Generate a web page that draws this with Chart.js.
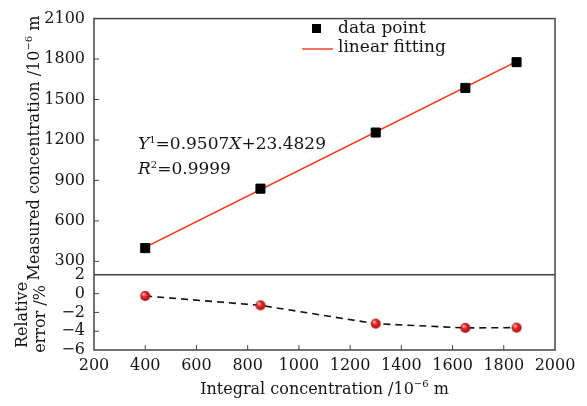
<!DOCTYPE html>
<html>
<head>
<meta charset="utf-8">
<script src="https://cdn.jsdelivr.net/npm/chart.js@4"></script>
<style>
  html, body { margin: 0; padding: 0; background: #fff; }
</style>
</head>
<body>
<canvas id="grafico" width="587" height="406"></canvas>
<script>
// datos
const integralConc = [400, 850, 1300, 1650, 1850];
const measuredConc = [398, 839, 1255, 1586, 1777];
const fitX = [400, 1850];
const fitY = [404, 1782];
const relativeError = [-0.25, -1.25, -3.2, -3.65, -3.62];

const xTicks = [200, 400, 600, 800, 1000, 1200, 1400, 1600, 1800, 2000];
const topTicks = [300, 600, 900, 1200, 1500, 1800, 2100];
const errTicks = [-6, -4, -2, 0, 2];

const SERIF = '"DejaVu Serif", "Liberation Serif", serif';
const tickFont = { family: SERIF, size: 16 };
const INK = '#151515';
const RED = '#f0442c';

// esfera roja para los puntos del error
function sphere(r) {
  const c = document.createElement('canvas');
  c.width = c.height = 2 * r + 2;
  const g = c.getContext('2d');
  const cx = r + 1;
  const grd = g.createRadialGradient(cx - r * 0.35, cx - r * 0.4, 0.5, cx, cx, r);
  grd.addColorStop(0, '#ffd6d6');
  grd.addColorStop(0.35, '#f02a2a');
  grd.addColorStop(1, '#a80c0c');
  g.fillStyle = grd;
  g.beginPath();
  g.arc(cx, cx, r, 0, Math.PI * 2);
  g.fill();
  return c;
}

function pts(xs, ys) {
  return xs.map((x, i) => ({ x, y: ys[i] }));
}

// texto con partes (superindices, cursiva)
function richText(ctx, parts, x, y, align) {
  let total = 0;
  parts.forEach(p => { ctx.font = p.f; total += ctx.measureText(p.t).width; });
  let cx = align === 'center' ? x - total / 2 : x;
  ctx.textAlign = 'left';
  ctx.textBaseline = 'middle';
  parts.forEach(p => {
    ctx.font = p.f;
    ctx.fillText(p.t, cx, y + (p.dy || 0));
    cx += ctx.measureText(p.t).width;
  });
}

const f16 = '16px ' + SERIF;
const f17 = '17px ' + SERIF;
const f10 = '10px ' + SERIF;
const i17 = 'italic 17px ' + SERIF;

const decoraciones = {
  id: 'decoraciones',
  beforeDatasetsDraw(chart) {
    const { ctx, chartArea: a, scales } = chart;
    ctx.save();
    ctx.strokeStyle = '#444';
    ctx.lineWidth = 1.5;
    ctx.strokeRect(a.left, a.top, a.right - a.left, a.bottom - a.top);
    // separador entre paneles
    const sep = scales.y.bottom;
    ctx.beginPath();
    ctx.moveTo(a.left, sep);
    ctx.lineTo(a.right, sep);
    ctx.stroke();
    // marcas hacia adentro
    ctx.lineWidth = 1;
    ctx.beginPath();
    topTicks.forEach(v => {
      const py = scales.y.getPixelForValue(v);
      if (py < a.top + 2) return;
      ctx.moveTo(a.left, py); ctx.lineTo(a.left + 5, py);
    });
    errTicks.forEach(v => {
      const py = scales.y2.getPixelForValue(v);
      if (py > a.bottom - 2 || py < sep + 2) return;
      ctx.moveTo(a.left, py); ctx.lineTo(a.left + 5, py);
    });
    xTicks.forEach(v => {
      const px = scales.x.getPixelForValue(v);
      if (px < a.left + 2 || px > a.right - 2) return;
      ctx.moveTo(px, a.bottom); ctx.lineTo(px, a.bottom - 5);
    });
    ctx.stroke();
    ctx.restore();
  },
  afterDraw(chart) {
    const { ctx, chartArea: a } = chart;
    ctx.save();
    ctx.fillStyle = INK;

    // titulo eje x
    richText(ctx, [
      { t: 'Integral concentration /10', f: f16 },
      { t: '\u22126', f: f10, dy: -6 },
      { t: ' m', f: f16 }
    ], (a.left + a.right) / 2, 390, 'center');

    // titulos eje y (rotados)
    const rot = (x, y, parts) => {
      ctx.save();
      ctx.translate(x, y);
      ctx.rotate(-Math.PI / 2);
      richText(ctx, parts, 0, 0, 'center');
      ctx.restore();
    };
    rot(35, 148, [
      { t: 'Measured concentration /10', f: f16 },
      { t: '\u22126', f: f10, dy: -6 },
      { t: ' m', f: f16 }
    ]);
    rot(23, 315, [{ t: 'Relative', f: f16 }]);
    rot(41, 319, [{ t: 'error /%', f: f16 }]);

    // ecuacion del ajuste
    richText(ctx, [
      { t: 'Y', f: i17 },
      { t: '1', f: f10, dy: -5 },
      { t: '=0.9507', f: f17 },
      { t: 'X', f: i17 },
      { t: '+23.4829', f: f17 }
    ], 138, 145, 'left');
    richText(ctx, [
      { t: 'R', f: i17 },
      { t: '2', f: f10, dy: -5 },
      { t: '=0.9999', f: f17 }
    ], 138, 170, 'left');

    // leyenda
    ctx.fillStyle = '#000';
    ctx.fillRect(312, 24, 9, 9);
    ctx.strokeStyle = RED;
    ctx.lineWidth = 1.5;
    ctx.beginPath();
    ctx.moveTo(302, 49);
    ctx.lineTo(333, 49);
    ctx.stroke();
    ctx.fillStyle = INK;
    richText(ctx, [{ t: 'data point', f: f17 }], 338, 29, 'left');
    richText(ctx, [{ t: 'linear fitting', f: f17 }], 338, 48, 'left');
    ctx.restore();
  }
};

const plainTicks = {
  font: tickFont, color: INK, padding: 9, autoSkip: false,
  callback: v => String(v).replace('-', '\u2212')
};

new Chart(document.getElementById('grafico').getContext('2d'), {
  type: 'scatter',
  data: {
    datasets: [
      {
        label: 'data point',
        data: pts(integralConc, measuredConc),
        yAxisID: 'y',
        pointStyle: 'rect',
        pointRadius: 6.4,
        backgroundColor: '#000',
        borderColor: '#000',
        showLine: false
      },
      {
        label: 'linear fitting',
        type: 'line',
        data: pts(fitX, fitY),
        yAxisID: 'y',
        borderColor: RED,
        borderWidth: 1.6,
        pointRadius: 0,
        fill: false
      },
      {
        label: 'relative error',
        type: 'line',
        data: pts(integralConc, relativeError),
        yAxisID: 'y2',
        borderColor: '#111',
        borderWidth: 1.6,
        borderDash: [7, 5],
        pointStyle: sphere(5),
        pointRadius: 5,
        fill: false
      }
    ]
  },
  options: {
    responsive: false,
    animation: false,
    layout: { padding: { left: 0, right: 32, top: 15, bottom: 0 } },
    plugins: { legend: { display: false }, tooltip: { enabled: false } },
    scales: {
      x: {
        type: 'linear',
        min: 200,
        max: 2000,
        afterBuildTicks: s => { s.ticks = xTicks.map(v => ({ value: v })); },
        afterFit: s => { s.height = 56; },
        grid: { display: false, drawTicks: false },
        border: { display: false },
        ticks: { font: tickFont, color: INK, padding: 6, maxRotation: 0, autoSkip: false, callback: v => String(v) }
      },
      y2: {
        type: 'linear',
        position: 'left',
        stack: 'paneles',
        stackWeight: 76,
        min: -6,
        max: 2,
        afterBuildTicks: s => { s.ticks = errTicks.map(v => ({ value: v })); },
        afterFit: s => { s.width = 94; },
        grid: { display: false, drawTicks: false },
        border: { display: false },
        ticks: plainTicks
      },
      y: {
        type: 'linear',
        position: 'left',
        stack: 'paneles',
        stackWeight: 259,
        min: 200,
        max: 2100,
        afterBuildTicks: s => { s.ticks = topTicks.map(v => ({ value: v })); },
        afterFit: s => { s.width = 94; },
        grid: { display: false, drawTicks: false },
        border: { display: false },
        ticks: plainTicks
      }
    }
  },
  plugins: [decoraciones]
});
</script>
</body>
</html>
